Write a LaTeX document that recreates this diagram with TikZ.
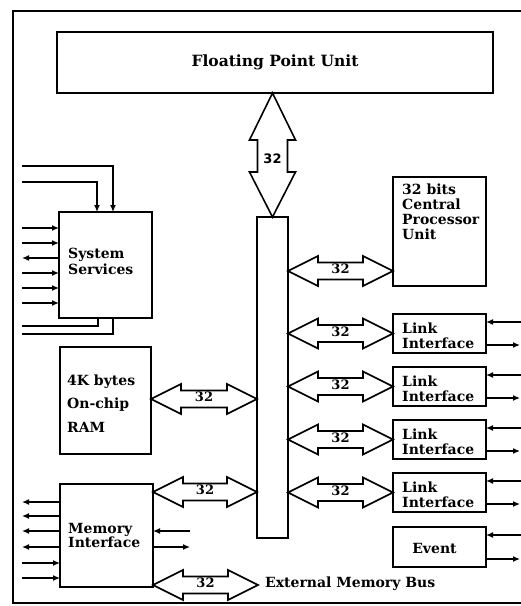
\documentclass[tikz,border=0pt]{standalone}
\usepackage{fontspec}
\setmainfont{DejaVu Serif}
\newfontfamily\vsans{DejaVu Sans}
\usetikzlibrary{arrows.meta,calc}
\newcommand\hdbl[3]{%
  \draw[dbl] #1 -- ++(30,-15) -- ++(0,6.5) -- ($#2+(-30,-8.5)$) -- ++(0,-6.5) -- #2
    -- ++(-30,15) -- ++(0,-6.5) -- ($#1+(30,8.5)$) -- ++(0,6.5) -- cycle;
  \node[num] at ($#1!0.5!#2+(0,-2)$) {#3};}
\begin{document}
\begin{tikzpicture}[x=1pt,y=-1pt,
  box/.style={draw,line width=1.6pt,inner sep=0pt,outer sep=0pt},
  txt/.style={font=\fontsize{14}{16}\selectfont\bfseries,align=left,inner sep=0pt,anchor=north west},
  num/.style={font=\fontsize{13}{13}\selectfont\bfseries,inner sep=0pt},
  dbl/.style={draw,line width=1.6pt,line join=miter},
  sig/.style={line width=1.3pt,-{Latex[length=7pt,width=6pt]}},
  wire/.style={line width=1.3pt},
  frameline/.style={line width=2.2pt}]
\useasboundingbox (0,0) rectangle (521,606);
% frame
\draw[frameline] (521,11) -- (13,11) -- (13,603) -- (521,603);
% boxes
\node[box,minimum width=436pt,minimum height=61pt,font=\fontsize{15.5}{16}\selectfont\bfseries] (fpu) at (275,62.5) {Floating Point Unit};
\node[box,minimum width=31pt,minimum height=321pt] (bus) at (272.5,377.5) {};
\node[box,minimum width=93pt,minimum height=109pt] (cpu) at (439.5,231.5) {};
\node[box,minimum width=93pt,minimum height=39pt] (link1) at (439.5,333.5) {};
\node[box,minimum width=93pt,minimum height=39pt] (link2) at (439.5,386.5) {};
\node[box,minimum width=93pt,minimum height=39pt] (link3) at (439.5,439.5) {};
\node[box,minimum width=93pt,minimum height=39pt] (link4) at (439.5,492.5) {};
\node[box,minimum width=93pt,minimum height=40pt] (event) at (439.5,547) {};
\node[box,minimum width=93pt,minimum height=106pt] (sys) at (105.5,265) {};
\node[box,minimum width=91pt,minimum height=107pt] (ram) at (105.5,400.5) {};
\node[box,minimum width=93pt,minimum height=103pt] (mem) at (106.5,535.5) {};
% texts
\node[txt,font=\fontsize{14}{15}\selectfont\bfseries] (cput) at (402,184) {32 bits\\Central\\Processor\\Unit};
\foreach \n in {link1,link2,link3,link4}
  \node[txt,font=\fontsize{14}{15}\selectfont\bfseries] (\n t) at ($(\n.north west)+(9,8.5)$) {Link\\Interface};
\node[font=\fontsize{14}{16}\selectfont\bfseries,inner sep=0pt] (eventt) at ($(event.center)+(-5,1)$) {Event};
\node[txt] (syst) at (68,248) {System\\Services};
\node[txt,font=\fontsize{14}{23.5}\selectfont\bfseries] (ramt) at (67,374.5) {4K bytes\\On-chip\\RAM};
\node[txt,font=\fontsize{14}{14.5}\selectfont\bfseries] (memt) at (68,523) {Memory\\Interface};
\node[font=\fontsize{14}{16}\selectfont\bfseries,inner sep=0pt,anchor=base west] (extt) at (265,587) {External Memory Bus};
% vertical double arrow
\coordinate (vt) at (bus.north |- fpu.south);
\draw[dbl] (vt) -- ++(-23,47) -- ++(8,0) -- ($(bus.north)+(-15,-45)$) -- ++(-8,0) -- (bus.north)
  -- ++(23,-45) -- ++(-8,0) -- ($(vt)+(15,47)$) -- ++(8,0) -- cycle;
\node[font=\vsans\bfseries\fontsize{13}{13}\selectfont,inner sep=0pt] (vnum) at ($(vt)!0.5!(bus.north)+(0,4)$) {32};
% horizontal double arrows
\hdbl{(bus.east |- 0,271)}{(cpu.west |- 0,271)}{32}
\hdbl{(bus.east |- link1.west)}{(link1.west)}{32}
\hdbl{(bus.east |- link2.west)}{(link2.west)}{32}
\hdbl{(bus.east |- link3.west)}{(link3.west)}{32}
\hdbl{(bus.east |- link4.west)}{(link4.west)}{32}
\hdbl{(ram.east |- 0,399)}{(bus.west |- 0,399)}{32}
\hdbl{(mem.east |- 0,492)}{(bus.west |- 0,492)}{32}
\coordinate (ext) at (258,585);
\hdbl{(mem.east |- ext)}{(ext)}{32}
% left signal lines
\coordinate (lft) at (22,0);
\foreach \y in {228,243,273,288,303} \draw[sig] (lft |- 0,\y) -- (sys.west |- 0,\y);
\draw[sig] (sys.west |- 0,258) -- (lft |- 0,258);
\draw[sig] (lft |- 0,166) -| (sys.north -| 113,0);
\draw[sig] (lft |- 0,182) -| (sys.north -| 97,0);
\draw[wire] (sys.south -| 98,0) |- (lft |- 0,326);
\draw[wire] (sys.south -| 113,0) |- (lft |- 0,334);
\foreach \y in {502,516,531,547} \draw[sig] (mem.west |- 0,\y) -- (lft |- 0,\y);
\foreach \y in {563,578} \draw[sig] (lft |- 0,\y) -- (mem.west |- 0,\y);
\coordinate (mr) at (190,0);
\draw[sig] (mr |- 0,531) -- (mem.east |- 0,531);
\draw[sig] (mem.east |- 0,547) -- (mr |- 0,547);
% right signal lines
\foreach \n in {link1,link2,link3,link4,event} {
  \draw[sig] ($(\n.north east)+(35,8)$) -- ($(\n.north east)+(0,8)$);
  \draw[sig] ($(\n.south east)+(0,-8)$) -- ($(\n.south east)+(34,-8)$);
}
\end{tikzpicture}
\end{document}
